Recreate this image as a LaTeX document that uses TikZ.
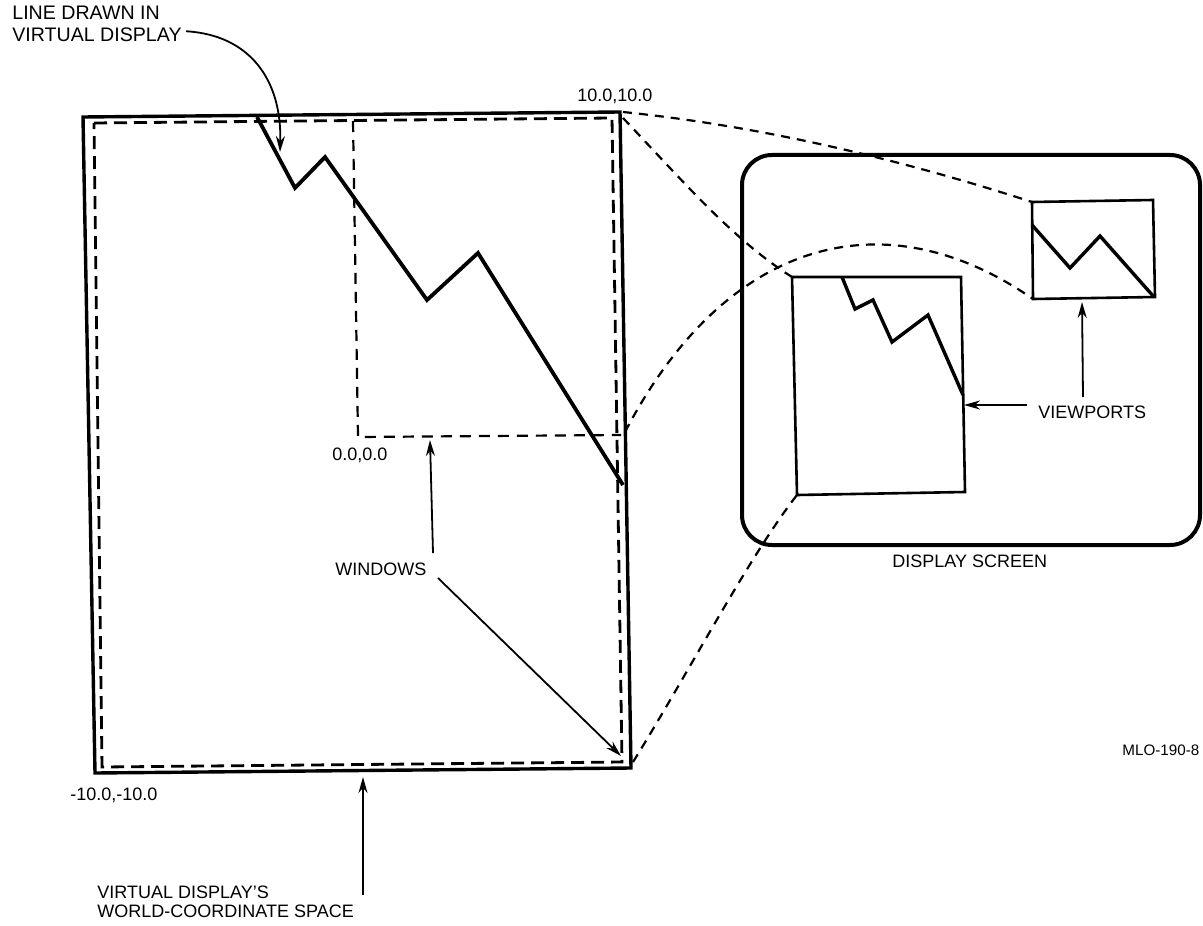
\documentclass[tikz,border=0pt]{standalone}
\usepackage{fontspec}
\setmainfont{Liberation Sans}
\usetikzlibrary{arrows.meta}
\begin{document}
\begin{tikzpicture}[x=0.5pt,y=-0.5pt,
  lbl/.style={inner sep=0pt, anchor=base west, font=\fontsize{9}{11}\selectfont},
  biglbl/.style={lbl, font=\fontsize{9.8}{11}\selectfont},
  smalllbl/.style={lbl, font=\fontsize{7.6}{9}\selectfont},
  outerline/.style={line width=1.7pt, line join=miter},
  innerdash/.style={line width=1.4pt, dash pattern=on 6.5pt off 3.5pt},
  windash/.style={line width=1.1pt, dash pattern=on 5.5pt off 4pt},
  projdash/.style={line width=1.1pt, dash pattern=on 4.5pt off 3.5pt},
  zig/.style={line width=1.9pt, line join=miter},
  vport/.style={line width=1.3pt, line join=miter},
  screen/.style={line width=2pt, rounded corners=15pt},
  arr/.style={line width=0.9pt, -{Stealth[length=8pt,width=4.5pt]}}
]
\useasboundingbox (0,0) rectangle (1203,925);

% ---------- virtual display (world-coordinate space)
\coordinate (o1) at (83,117);
\coordinate (o2) at (620,112);
\coordinate (o3) at (631,768);
\coordinate (o4) at (95,773);
\draw[outerline] (o1) -- (o2) -- (o3) -- (o4) -- cycle;

\coordinate (i1) at (94,123);
\coordinate (i2) at (612,118);
\coordinate (i3) at (622,762);
\coordinate (i4) at (102,767);
\draw[innerdash] (i1) -- (i2) -- (i3) -- (i4) -- cycle;

% window (top-right quadrant)
\coordinate (w1) at (353,121);
\coordinate (w2) at (358,437);
\coordinate (w3) at (621,435);
\draw[windash] (w1) -- (w2) -- (w3);

% line drawn in virtual display
\coordinate (z0) at (257,117);
\coordinate (z5) at (623,485);
\draw[zig] (z0) -- (295,188) -- (325,157) -- (427,300) -- (478,253) -- (z5);

% ---------- display screen
\node[draw, screen, minimum width=229pt, minimum height=195pt, inner sep=0pt,
      anchor=north west] (scr) at (740,153) {};

% left viewport
\coordinate (a1) at (792,277);
\coordinate (a2) at (961,277);
\coordinate (a3) at (965,492);
\coordinate (a4) at (797,495);
\draw[vport] (a1) -- (a2) -- (a3) -- (a4) -- cycle;
\draw[zig, line width=1.7pt] (842,277) -- (855,309) -- (873,300) -- (892,342) -- (928,315) -- (963,395);

% right viewport
\coordinate (b1) at (1032,202);
\coordinate (b2) at (1153,200);
\coordinate (b3) at (1155,297);
\coordinate (b4) at (1033,299);
\draw[vport] (b1) -- (b2) -- (b3) -- (b4) -- cycle;
\draw[zig, line width=1.7pt] (1032,225) -- (1070,268) -- (1100,236) -- (1154,297);

% ---------- projection lines
\coordinate (pTR) at (623,112);
\coordinate (pTR2) at (623,118);
\coordinate (pMid) at (625,432);
\coordinate (pBR) at (633,762);
\draw[projdash] (pTR) .. controls (759,126) and (896,158) .. (b1);
\draw[projdash] (pTR2) .. controls (683,181) and (732,239) .. (a1);
\draw[projdash] (pMid) .. controls (725,240) and (883,195) .. (b4);
\draw[projdash] (pBR) .. controls (690,670) and (750,555) .. (a4);

% ---------- labels
\node[biglbl] (l1) at (12,20) {LINE DRAWN IN};
\node[biglbl] (l2) at (12,42) {VIRTUAL DISPLAY};
\node[lbl] (c10) at (577,102) {10.0,10.0};
\node[lbl] (c0) at (332,460) {0.0,0.0};
\node[lbl] (cm10) at (70,800) {-10.0,-10.0};
\node[lbl] (win) at (335,575) {WINDOWS};
\node[lbl] (vds1) at (97,898) {VIRTUAL DISPLAY’S};
\node[lbl] (vds2) at (97,917) {WORLD-COORDINATE SPACE};
\node[lbl] (vp) at (1038,418) {VIEWPORTS};
\node[lbl] (ds) at (892,567) {DISPLAY SCREEN};
\node[smalllbl] (mlo) at (1122,755) {MLO-190-8};

% ---------- arrows
\coordinate (tipLine) at (280,152);
\draw[arr] ([shift={(4,-4)}]l2.east) .. controls (250,35) and (282,80) .. (tipLine);

\coordinate (wa0) at (433,553);
\coordinate (wa1) at (430,440);
\draw[arr] (wa0) -- (wa1);
\coordinate (wb0) at (438,578);
\coordinate (wb1) at (621,756);
\draw[arr] (wb0) -- (wb1);

\coordinate (va0) at (363,895);
\coordinate (va1) at (363,777);
\draw[arr] (va0) -- (va1);

\coordinate (vp0) at (1027,405);
\coordinate (vp1) at (964,405);
\draw[arr] (vp0) -- (vp1);
\coordinate (vq0) at (1083,397);
\coordinate (vq1) at (1082,302);
\draw[arr] (vq0) -- (vq1);
\end{tikzpicture}
\end{document}
